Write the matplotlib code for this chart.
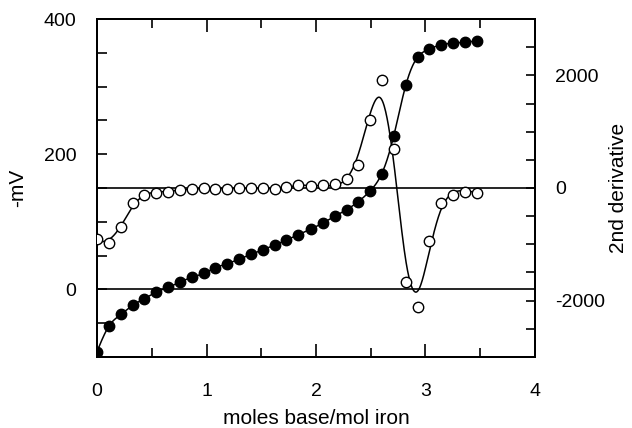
import numpy as np
import matplotlib
matplotlib.use('Agg')
import matplotlib.pyplot as plt
from matplotlib.ticker import MultipleLocator

plt.rcParams['font.family'] = ['Liberation Sans', 'DejaVu Sans']
plt.rcParams['axes.unicode_minus'] = False

# moles of base added per mol iron
base_moles = [0.00, 0.11, 0.22, 0.33, 0.43, 0.54, 0.65, 0.76, 0.87, 0.98,
              1.08, 1.19, 1.30, 1.41, 1.52, 1.63, 1.73, 1.84, 1.95, 2.06,
              2.17, 2.28, 2.38, 2.49, 2.60, 2.71, 2.82, 2.93, 3.03, 3.14,
              3.25, 3.36, 3.47]

# potential (-mV), filled circles, left axis
potential = [-92, -54, -37, -23, -14, -4, 3, 11, 18, 24,
             32, 38, 45, 52, 59, 66, 73, 81, 89, 98,
             108, 118, 129, 145, 171, 227, 302, 344, 355, 362,
             364, 366, 367]

# 2nd derivative, open circles, right axis
second_deriv = [-911, -976, -698, -259, -117, -89, -71, -28, -23, -5,
                -11, -11, -5, -5, 0, -23, 12, 60, 40, 48,
                78, 154, 415, 1202, 1917, 699, -1668, -2112, -946, -266,
                -117, -71, -89]


# smoothing spline on a fine grid (penalised least squares on 2nd differences)
def smooth_line(x, y, lam, n=800):
    x = np.asarray(x, float)
    y = np.asarray(y, float)
    grid = np.linspace(x[0], x[-1], n)
    h = grid[1] - grid[0]
    pos = (x - grid[0]) / h
    i0 = np.clip(np.floor(pos).astype(int), 0, n - 2)
    frac = pos - i0
    B = np.zeros((len(x), n))
    B[np.arange(len(x)), i0] = 1 - frac
    B[np.arange(len(x)), i0 + 1] = frac
    D = np.diff(np.eye(n), 2, axis=0)
    A = B.T @ B + lam / h**3 * (D.T @ D)
    f = np.linalg.solve(A, B.T @ y)
    return grid, f


fig = plt.figure(figsize=(6.32, 4.28), dpi=100)
ax = fig.add_axes([0.1535, 0.1659, 0.693, 0.7897])
ax2 = ax.twinx()

# reference lines
ax.axhline(0, color='black', lw=1.2, zorder=1)
ax2.axhline(0, color='black', lw=1.2, zorder=1)

# potential curve
gx, gy = smooth_line(base_moles, potential, 1e-7)
ax.plot(gx, gy, color='black', lw=1.1, zorder=2)
ax.plot(base_moles, potential, 'o', color='black', ms=7.5, zorder=3)

# 2nd derivative curve
gx2, gy2 = smooth_line(base_moles, second_deriv, 2e-4)
ax2.plot(gx2, gy2, color='black', lw=1.1, zorder=2)
ax2.plot(base_moles, second_deriv, 'o', mfc='white', mec='black', mew=1.0,
         ms=7.5, zorder=3)

ax.set_xlim(0, 4)
ax.set_ylim(-100, 400)
ax2.set_ylim(-3000, 3000)

ax.xaxis.set_major_locator(MultipleLocator(1))
ax.xaxis.set_minor_locator(MultipleLocator(0.5))
ax.yaxis.set_major_locator(MultipleLocator(200))
ax.yaxis.set_minor_locator(MultipleLocator(50))
ax2.yaxis.set_major_locator(MultipleLocator(2000))
ax2.yaxis.set_minor_locator(MultipleLocator(500))

ax.tick_params(axis='x', which='both', direction='in', top=True, bottom=True,
               width=1.2, labelsize=14, pad=18.5)
ax.tick_params(axis='x', which='major', length=9.5)
ax.tick_params(axis='x', which='minor', length=6.5)
ax.tick_params(axis='y', which='both', direction='in', left=True, right=False,
               length=7, width=1.2, labelsize=14, pad=15)
ax2.tick_params(axis='y', which='both', direction='in', length=6.5, width=1.2,
                labelsize=14, pad=14.5)

for a in (ax, ax2):
    for s in a.spines.values():
        s.set_linewidth(1.4)

ax.set_xlabel('moles base/mol iron', fontsize=15, labelpad=7)
ax.set_ylabel('-mV', fontsize=15, labelpad=12)
ax2.set_ylabel('2nd derivative', fontsize=15, labelpad=3)

fig.savefig('out.png', dpi=100)
